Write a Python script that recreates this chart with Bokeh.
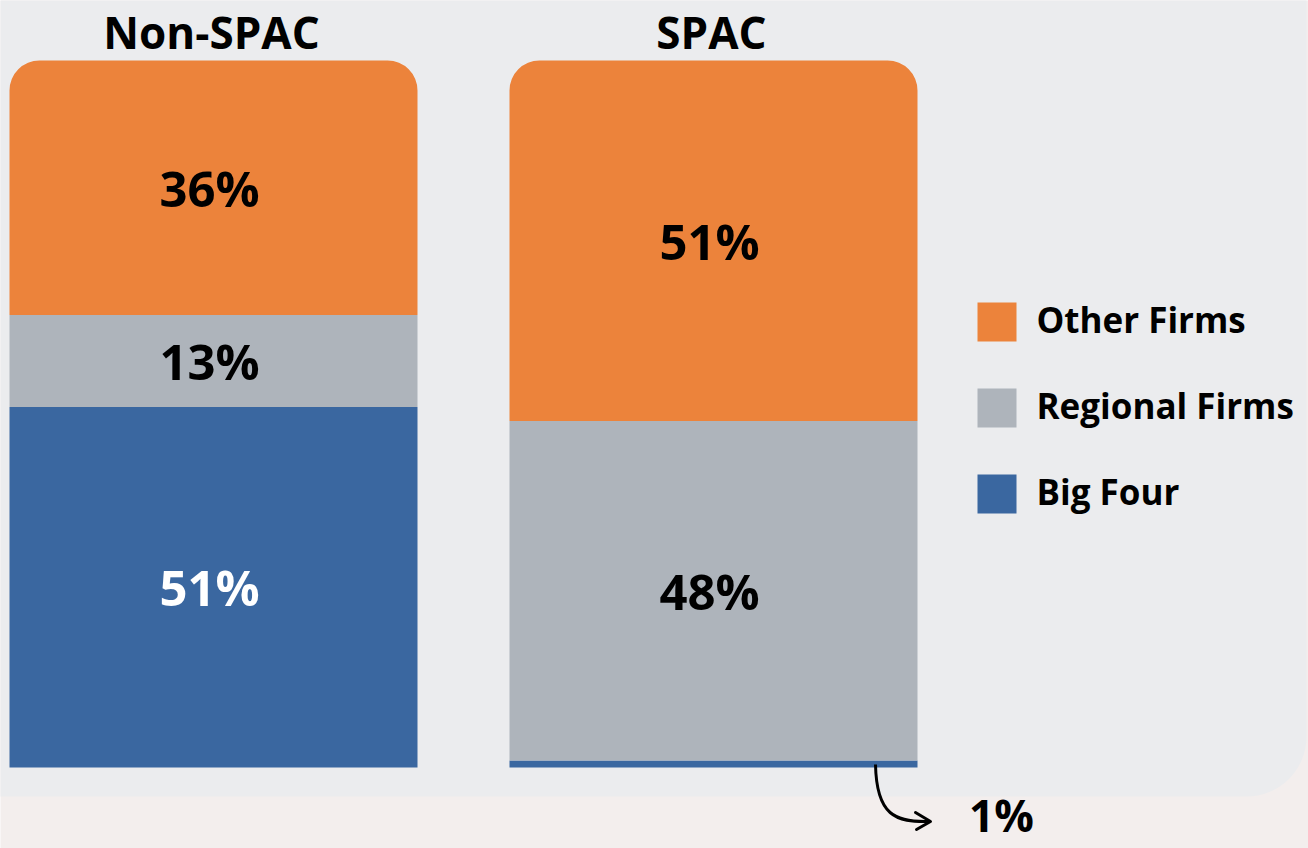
from bokeh.plotting import figure
from bokeh.models import Range1d
from bokeh.core.properties import value
from bokeh.embed import file_html
from bokeh.resources import INLINE

# ---- data ----
groups = ["Non-SPAC", "SPAC"]
series = ["Big Four", "Regional Firms", "Other Firms"]
big_four = [51, 1]
regional = [13, 48]
other = [36, 51]
colors = {"Big Four": "#3a67a0", "Regional Firms": "#aeb4bb", "Other Firms": "#ec833b"}
label_colors = {"Big Four": "white", "Regional Firms": "black", "Other Firms": "black"}
legend_order = ["Other Firms", "Regional Firms", "Big Four"]
callout_text = "1%"

# ---- layout (pixel geometry) ----
W, H = 1308, 848
PX = 7.07          # pixels per percentage point
BASE = 767         # pixel row of 0 %
def yi(py):
    return (BASE - py) / PX

FONT = value("Open Sans")
BAR_W = 408
centers = [213 + i * 500 for i in range(len(groups))]

p = figure(width=W, height=H, output_backend="svg", toolbar_location=None,
           x_range=Range1d(0, W), y_range=Range1d(yi(H), yi(0)),
           x_axis_type=None, y_axis_type=None, min_border=0)
p.grid.visible = False
p.outline_line_color = None
p.background_fill_color = "#f3eeed"
p.border_fill_color = "#f3eeed"

# background card
p.quad(left=[-60], right=[1306], top=[yi(-60)], bottom=[yi(796)],
       fill_color="#ebecee", line_color=None, border_radius=60)

# stacked bars
vals = {"Big Four": big_four, "Regional Firms": regional, "Other Firms": other}
bottoms = [0] * len(groups)
for s in series:
    tops = [b + v for b, v in zip(bottoms, vals[s])]
    radius = (30, 30, 0, 0) if s == "Other Firms" else 0
    p.vbar(x=centers, bottom=bottoms, top=tops, width=BAR_W,
           fill_color=colors[s], line_color=None, border_radius=radius)
    lx, ly, lt = [], [], []
    for c, b, t, v in zip(centers, bottoms, tops, vals[s]):
        if v >= 5:
            lx.append(c - 4)
            ly.append((b + t) / 2)
            lt.append(f"{v}%")
    p.text(x=lx, y=ly, text=lt, text_font=FONT, text_font_style="bold",
           text_font_size="49px", text_align="center", text_baseline="middle",
           text_color=label_colors[s])
    bottoms = tops

# group titles
p.text(x=[c - 2 for c in centers], y=[yi(31)] * len(groups), text=groups, text_font=FONT,
       text_font_style="bold", text_font_size="44px", text_align="center",
       text_baseline="middle", text_color="black")

# legend
for i, s in enumerate(legend_order):
    top_px = 302 + i * 86
    p.quad(left=[977], right=[1016], top=[yi(top_px)], bottom=[yi(top_px + 39)],
           fill_color=colors[s], line_color=None)
    p.text(x=[1036], y=[yi(top_px + 17)], text=[s], text_font=FONT,
           text_font_style="bold", text_font_size="35px", text_align="left",
           text_baseline="middle", text_color="black")

# callout for the tiny SPAC Big Four segment
p.bezier(x0=[875], y0=[yi(764)], x1=[929], y1=[yi(821)],
         cx0=[876], cy0=[yi(815)], cx1=[895], cy1=[yi(822)],
         line_color="black", line_width=3)
p.line(x=[915, 930, 916], y=[yi(812), yi(821), yi(829)], line_color="black",
       line_width=3, line_join="round", line_cap="round")
p.text(x=[1001], y=[yi(814)], text=[callout_text], text_font=FONT,
       text_font_style="bold", text_font_size="44px", text_align="center",
       text_baseline="middle", text_color="black")

open("out.html", "w").write(file_html(p, INLINE))
